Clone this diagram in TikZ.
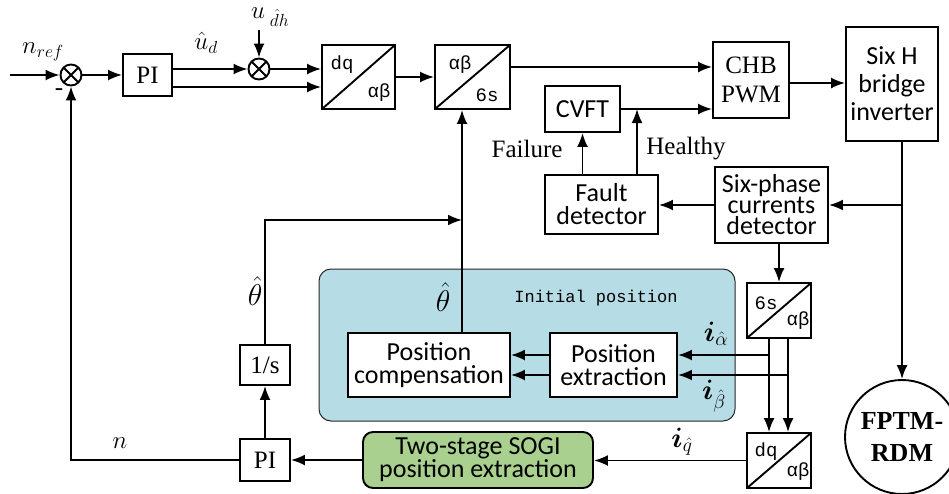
\documentclass[tikz,border=0pt]{standalone}
\usepackage{fix-cm}
\usepackage{amsmath}
\usepackage{fontspec}
\setmainfont{Liberation Serif}
\newfontfamily\sansfont{Carlito}
\newfontfamily\monofont{Liberation Mono}
\usetikzlibrary{arrows.meta,positioning,calc}
\definecolor{initblue}{RGB}{182,220,230}
\definecolor{sogigreen}{RGB}{169,208,142}
\newcommand\sfsize[1]{\sansfont\fontsize{26}{#1}\selectfont\lineskiplimit=-20pt\relax}
\tikzset{
	line/.style={line width=1.9pt},
	arr/.style={line,-{Latex[length=14pt,width=11pt]}},
	blk/.style={draw,line width=1.9pt,fill=white,inner sep=0pt,align=center},
	conv/.style={blk,minimum width=64pt,minimum height=55pt,
		path picture={\draw[line width=1.9pt] (path picture bounding box.south west) -- (path picture bounding box.north east);}},
	summ/.style={circle,draw,line width=1.9pt,minimum size=21pt,inner sep=0pt,
		path picture={\draw[line width=1.9pt] (path picture bounding box.north west) -- (path picture bounding box.south east)
			(path picture bounding box.south west) -- (path picture bounding box.north east);}},
	rmtxt/.style={font=\fontsize{25}{29}\selectfont},
	sftxt/.style={font={\sfsize{#1}}},
	sftxt/.default=23,
	tttxt/.style={font=\monofont\fontsize{#1}{20}\selectfont,inner sep=0pt},
	tttxt/.default=19,
	mathtxt/.style={font=\fontsize{#1}{28}\selectfont,inner sep=0pt},
	mathtxt/.default=25,
	initbox/.style={draw=black!85,line width=1pt,fill=initblue,rounded corners=12pt},
}
\begin{document}
\begin{tikzpicture}[x=1pt,y=-1pt]
	\useasboundingbox (0,0) rectangle (949,493);
	% initial position area
	\node[initbox,minimum width=416pt,minimum height=152pt] (init) at (527,345) {};
	\node[tttxt=17] (initlbl) at (596,298) {Initial position};

	% forward path
	\coordinate (in) at (10,75);
	\node[summ] (sum1) at (71,75) {};
	\node[blk,rmtxt,minimum width=49pt,minimum height=42pt] (pi1) at (147.5,75) {PI};
	\node[summ] (sum2) at (259,69) {};
	\coordinate (udharr) at (259,30);
	\node[conv,minimum width=73pt,minimum height=64pt] (dq1) at (358.5,77) {};
	\node[conv,minimum width=75pt,minimum height=64pt] (ab1) at (472.5,77) {};
	\node[blk,rmtxt,minimum width=76pt,minimum height=76pt] (chb) at (751,80) {CHB\\PWM};
	\node[blk,sftxt=28,minimum width=92pt,minimum height=114pt] (sixh) at (892,84) {Six H\\bridge\\inverter};
	\node[blk,sftxt,minimum width=75pt,minimum height=46pt] (cvft) at (582.5,109) {CVFT};
	\node[blk,sftxt,minimum width=113pt,minimum height=59pt] (fault) at (601.5,204.5) {Fault\\detector};
	\node[blk,sftxt=21,minimum width=113pt,minimum height=76pt] (sixph) at (771.5,205) {Six-phase\\currents\\detector};
	\node[circle,draw,line width=1.9pt,minimum size=114pt,inner sep=0pt,align=center,
		font=\bfseries\fontsize{26}{32}\selectfont] (motor) at (902,437) {FPTM-\\RDM};
	\coordinate (hj) at (637,109);

	% observer path
	\node[blk,sftxt,minimum width=162pt,minimum height=64pt] (pcomp) at (429,365) {Position\\compensation};
	\node[blk,sftxt,minimum width=127pt,minimum height=64pt] (pext) at (613.5,365) {Position\\extraction};
	\node[conv] (ab2) at (779,310.5) {};
	\node[conv] (dq2) at (779,460.5) {};
	\node[blk,sftxt,rounded corners=10pt,fill=sogigreen,minimum width=230pt,minimum height=56pt] (sogi) at (478,460) {Two-stage SOGI\\position extraction};
	\node[blk,rmtxt,minimum width=50pt,minimum height=42pt] (pi2) at (265,460) {PI};
	\node[blk,rmtxt,minimum width=50pt,minimum height=40pt] (integ) at (265,365) {1/s};
	\coordinate (tj) at (462,220);

	% converter labels
	\node[tttxt] (dq1a) at (342,65) {dq};
	\node[tttxt] (dq1b) at (379,93) {αβ};
	\node[tttxt] (ab1a) at (460,65) {αβ};
	\node[tttxt] (ab1b) at (487,95) {6s};
	\node[tttxt] (ab2a) at (766,303) {6s};
	\node[tttxt] (ab2b) at (798,321) {αβ};
	\node[tttxt] (dq2a) at (766,452) {dq};
	\node[tttxt] (dq2b) at (798,472) {αβ};

	% signal labels
	\node[mathtxt] (nref) at (43,52) {$n_{ref}$};
	\node[rmtxt,inner sep=0pt] (minus) at (59,92) {-};
	\node[mathtxt] (ud) at (206,43) {$\hat{u}_d$};
	\node[mathtxt,anchor=west] (udh) at (251,17) {$u_{\;\hat{d}h}$};
	\node[rmtxt] (fail) at (527,149) {Failure};
	\node[rmtxt] (hlth) at (686,149) {Healthy};
	\node[mathtxt=30] (th1) at (255,291) {$\hat{\theta}$};
	\node[mathtxt=30] (th2) at (443,297) {$\hat{\theta}$};
	\node[mathtxt=28] (ia) at (716,334) {$\boldsymbol{i}_{\hat{\alpha}}$};
	\node[mathtxt=28] (ib) at (714,396) {$\boldsymbol{i}_{\hat{\beta}}$};
	\node[mathtxt=28] (iq) at (682,442) {$\boldsymbol{i}_{\hat{q}}$};
	\node[mathtxt] (nfb) at (120,443) {$n$};

	% connectors
	\draw[arr] (in) -- (sum1);
	\draw[arr] (sum1) -- (pi1);
	\draw[arr] ([yshift=6pt]pi1.east) -- (sum2);
	\draw[arr] (udharr) -- (sum2);
	\draw[arr] (sum2) -- (sum2 -| dq1.west);
	\draw[arr] ([yshift=-12pt]pi1.east) -- ([yshift=-12pt]pi1.east -| dq1.west);
	\draw[arr] (dq1) -- (ab1);
	\draw[arr] ([yshift=10pt]ab1.east) -- ([yshift=10pt]ab1.east -| chb.west);
	\draw[arr] (cvft.east) -- (cvft.east -| chb.west);
	\draw[arr] ([yshift=-3pt]chb.east) -- ([yshift=-3pt]chb.east -| sixh.west);
	\draw[arr] (sixh.south -| motor) -- (motor);
	\draw[arr] (sixph.east -| motor) -- (sixph.east);
	\draw[arr] (sixph.west) -- (sixph.west -| fault.east);
	\draw[arr] (fault.north -| cvft) -- (cvft.south);
	\draw[arr] (fault.north -| hj) -- (hj);
	\draw[arr] (sixph.south -| ab2) -- (ab2.north);
	\foreach \dx/\dy in {-10/-10,9/10}{
		\draw[arr] ($(ab2.south)+(\dx,0)$) -- ($(dq2.north)+(\dx,0)$);
		\draw[arr] ($(ab2.south)+(\dx,0)$) |- ($(pext.east)+(0,\dy)$);
		\draw[arr] ($(pext.west)+(0,\dy)$) -- ($(pcomp.east)+(0,\dy)$);
	}
	\draw[arr] (dq2.west) -- (dq2.west -| sogi.east);
	\draw[arr] (sogi.west) -- (sogi.west -| pi2.east);
	\draw[arr] (pi2) -- (integ);
	\draw[arr] (integ.north) |- (tj);
	\draw[arr] (pcomp.north -| tj) -- (ab1.south -| tj);
	\draw[arr] (pi2.west) -| (sum1.south);
\end{tikzpicture}
\end{document}
